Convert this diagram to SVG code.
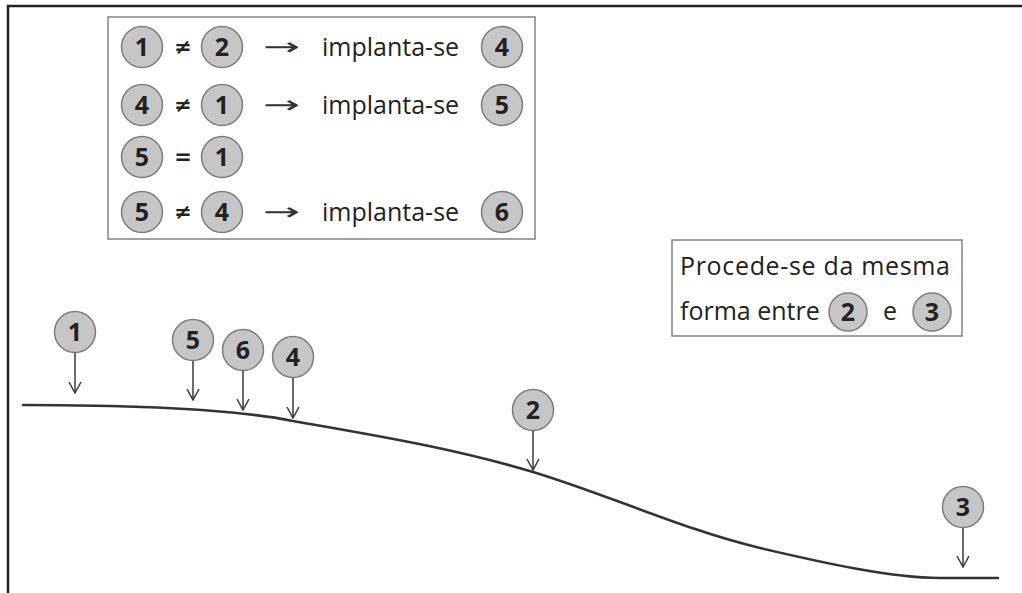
<svg xmlns="http://www.w3.org/2000/svg" width="1022" height="593" viewBox="0 0 1022 593">
  <style>
    .frame { fill: none; stroke: #222; stroke-width: 2.5; }
    .box { fill: #fff; stroke: #8a8a8a; stroke-width: 1.6; }
    .ball { fill: #c6c6c6; stroke: #7c7c7c; stroke-width: 1.5; }
    .num { font-family: "Open Sans", "Noto Sans", sans-serif; font-weight: bold; font-size: 25px; fill: #222; text-anchor: middle; }
    .txt { font-family: "Open Sans", "Noto Sans", sans-serif; font-size: 25px; fill: #222; }
    .op { font-family: "DejaVu Sans", sans-serif; font-weight: bold; font-size: 21px; fill: #222; text-anchor: middle; }
    .arr { font-family: "DejaVu Sans", sans-serif; font-size: 24px; fill: #333; }
    .ground { fill: none; stroke: #333; stroke-width: 2.6; stroke-linecap: round; }
    .drop { fill: none; stroke: #3a3a3a; stroke-width: 1.5; marker-end: url(#head); }
  </style>
  <defs>
    <marker id="head" markerUnits="userSpaceOnUse" markerWidth="14" markerHeight="14" viewBox="0 0 14 14" refX="13" refY="7" orient="auto">
      <path d="M2,1 L13,7 L2,13" fill="none" stroke="#3a3a3a" stroke-width="1.5"/>
    </marker>
  </defs>

  <!-- outer frame (top and left edges only) -->
  <path class="frame" d="M8,593 L8,6 L1022,6"/>

  <!-- rule box -->
  <g id="rules">
    <rect class="box" x="108" y="17" width="427" height="222"/>
    <!-- row 1 -->
    <circle class="ball" cx="142" cy="47" r="20.5"/><text class="num" x="142" y="56">1</text>
    <text class="op" x="183" y="54">≠</text>
    <circle class="ball" cx="222" cy="47" r="20.5"/><text class="num" x="222" y="56">2</text>
    <text class="arr" x="263" y="55" textLength="37" lengthAdjust="spacingAndGlyphs">→</text>
    <text class="txt" x="322" y="56">implanta-se</text>
    <circle class="ball" cx="502" cy="47" r="20.5"/><text class="num" x="502" y="56">4</text>
    <!-- row 2 -->
    <circle class="ball" cx="142" cy="105" r="20.5"/><text class="num" x="142" y="114">4</text>
    <text class="op" x="183" y="112">≠</text>
    <circle class="ball" cx="222" cy="105" r="20.5"/><text class="num" x="222" y="114">1</text>
    <text class="arr" x="263" y="113" textLength="37" lengthAdjust="spacingAndGlyphs">→</text>
    <text class="txt" x="322" y="114">implanta-se</text>
    <circle class="ball" cx="502" cy="105" r="20.5"/><text class="num" x="502" y="114">5</text>
    <!-- row 3 -->
    <circle class="ball" cx="142" cy="157" r="20.5"/><text class="num" x="142" y="166">5</text>
    <text class="op" x="183" y="164">=</text>
    <circle class="ball" cx="222" cy="157" r="20.5"/><text class="num" x="222" y="166">1</text>
    <!-- row 4 -->
    <circle class="ball" cx="142" cy="212" r="20.5"/><text class="num" x="142" y="221">5</text>
    <text class="op" x="183" y="219">≠</text>
    <circle class="ball" cx="222" cy="212" r="20.5"/><text class="num" x="222" y="221">4</text>
    <text class="arr" x="263" y="220" textLength="37" lengthAdjust="spacingAndGlyphs">→</text>
    <text class="txt" x="322" y="221">implanta-se</text>
    <circle class="ball" cx="502" cy="212" r="20.5"/><text class="num" x="502" y="221">6</text>
  </g>

  <!-- note box -->
  <g id="note">
    <rect class="box" x="672" y="240" width="290" height="96"/>
    <text class="txt" x="680" y="275" textLength="270" lengthAdjust="spacing">Procede-se da mesma</text>
    <text class="txt" x="680" y="320">forma entre</text>
    <circle class="ball" cx="848" cy="312" r="19"/><text class="num" x="848" y="321">2</text>
    <text class="txt" x="883" y="320">e</text>
    <circle class="ball" cx="932" cy="312" r="19"/><text class="num" x="932" y="321">3</text>
  </g>

  <!-- terrain profile -->
  <g id="terrain">
    <path class="ground" d="M23,405 C130,405 233,409 293,421 C373,435 453,448 533,472 C609,495 684,530 760,548 C820,562 890,578 940,578 L998,578"/>
  </g>

  <!-- stake markers -->
  <g id="stake-1"><circle class="ball" cx="75" cy="332" r="20.5"/><text class="num" x="75" y="341">1</text></g>
  <g id="stake-5"><circle class="ball" cx="193" cy="340" r="20.5"/><text class="num" x="193" y="349">5</text></g>
  <g id="stake-6"><circle class="ball" cx="243" cy="350" r="20.5"/><text class="num" x="243" y="359">6</text></g>
  <g id="stake-4"><circle class="ball" cx="293" cy="357" r="20.5"/><text class="num" x="293" y="366">4</text></g>
  <g id="stake-2"><circle class="ball" cx="533" cy="410" r="20.5"/><text class="num" x="533" y="419">2</text></g>
  <g id="stake-3"><circle class="ball" cx="963" cy="507" r="20.5"/><text class="num" x="963" y="516">3</text></g>

  <!-- drop arrows -->
  <g id="connectors">
    <line class="drop" x1="75" y1="353" x2="75" y2="393"/>
    <line class="drop" x1="193" y1="361" x2="193" y2="400"/>
    <line class="drop" x1="243" y1="371" x2="243" y2="410"/>
    <line class="drop" x1="293" y1="378" x2="293" y2="418"/>
    <line class="drop" x1="533" y1="431" x2="533" y2="470"/>
    <line class="drop" x1="963" y1="528" x2="963" y2="567"/>
  </g>
</svg>
